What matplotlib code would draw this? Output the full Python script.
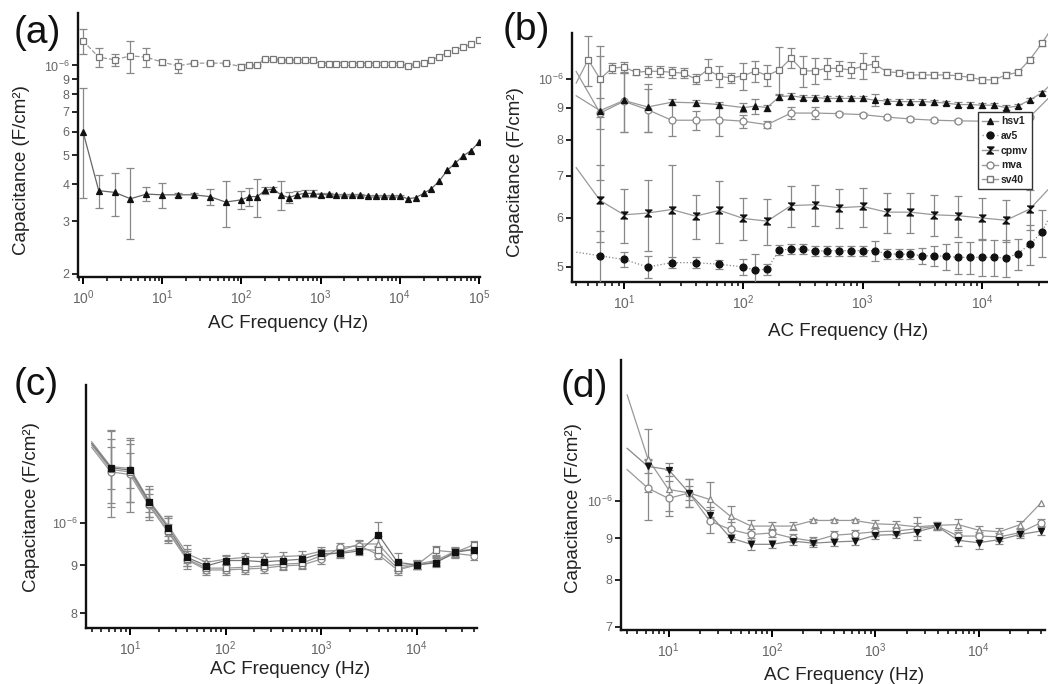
import numpy as np
import matplotlib
matplotlib.use('Agg')
import matplotlib.pyplot as plt
from matplotlib.lines import Line2D
from matplotlib.ticker import (FixedLocator, FixedFormatter, NullLocator,
                               LogLocator, NullFormatter)

plt.rcParams['font.family'] = ['Liberation Sans', 'DejaVu Sans']
plt.rcParams['mathtext.fontset'] = 'custom'
plt.rcParams['mathtext.rm'] = 'Liberation Sans'
plt.rcParams['mathtext.it'] = 'Liberation Sans:italic'

# ---------------- data (capacitance in F/cm2) ----------------
# panel (a): values x1e-7
freq_a = [1, 1.58, 2.51, 3.98, 6.31, 10, 15.8, 25.1, 39.8, 63.1,
          100, 126, 158, 200, 251, 316, 398, 501, 631, 794,
          1000, 1259, 1585, 1995, 2512, 3162, 3981, 5012, 6310, 7943,
          10000, 12589, 15849, 19953, 25119, 31623, 39811, 50119, 63096, 79433, 100000]
a_tri = [6.0, 3.8, 3.75, 3.57, 3.7, 3.68, 3.68, 3.68, 3.63, 3.48,
         3.54, 3.63, 3.63, 3.81, 3.85, 3.68, 3.6, 3.68, 3.72, 3.72,
         3.68, 3.7, 3.68, 3.68, 3.68, 3.68, 3.65, 3.65, 3.65, 3.65,
         3.65, 3.57, 3.6, 3.72, 3.86, 4.1, 4.45, 4.7, 4.97, 5.18, 5.53]
a_tri_err = [2.4, 0.48, 0.62, 0.95, 0.2, 0.36, 0.05, 0.05, 0.23, 0.62,
             0.25, 0.25, 0.53, 0.1, 0.05, 0.4, 0.15, 0.1, 0.1, 0.1,
             0.05, 0.03, 0.03, 0.03, 0.03, 0.03, 0.03, 0.03, 0.03, 0.03,
             0.03, 0, 0, 0, 0, 0, 0, 0, 0, 0, 0]
a_sq = [12.1, 10.66, 10.45, 10.77, 10.66, 10.26, 9.97, 10.18, 10.18, 10.18,
        9.9, 10.0, 10.05, 10.5, 10.5, 10.45, 10.4, 10.4, 10.4, 10.4,
        10.15, 10.15, 10.15, 10.15, 10.15, 10.15, 10.15, 10.15, 10.15, 10.15,
        10.15, 9.97, 10.1, 10.2, 10.45, 10.7, 11.05, 11.3, 11.5, 11.8, 12.2]
a_sq_err = [1.2, 0.75, 0.5, 1.3, 0.8, 0.2, 0.55, 0.1, 0.1, 0.1,
            0.2, 0.15, 0.1, 0.1, 0.1, 0.1, 0.1, 0.1, 0.1, 0.1,
            0.15, 0.15, 0.15, 0.15, 0.15, 0.15, 0.15, 0.15, 0.15, 0.15,
            0.15, 0.1, 0.1, 0, 0, 0, 0, 0, 0, 0, 0]

# panel (b): values x1e-6
freq_b_dense = [3.98, 6.31, 10, 15.8, 25.1, 39.8, 63.1,
                100, 126, 158, 200, 251, 316, 398, 501, 631, 794,
                1000, 1259, 1585, 1995, 2512, 3162, 3981, 5012, 6310, 7943,
                10000, 12589, 15849, 19953, 25119, 31623, 39811]
hsv1 = [0.94, 0.89, 0.924, 0.902, 0.918, 0.916, 0.91,
        0.90, 0.905, 0.90, 0.937, 0.94, 0.934, 0.934, 0.931, 0.931, 0.931,
        0.931, 0.925, 0.922, 0.92, 0.92, 0.92, 0.918, 0.915, 0.91, 0.91,
        0.908, 0.908, 0.90, 0.905, 0.926, 0.95, 0.99]
hsv1_err = [0, 0.2, 0.1, 0.08, 0.01, 0.01, 0.01,
            0.015, 0.025, 0.01, 0.01, 0.01, 0.01, 0.01, 0.01, 0.01, 0.01,
            0.01, 0.02, 0.008, 0.008, 0.008, 0.008, 0.008, 0.008, 0.008, 0.008,
            0.008, 0.008, 0.008, 0.008, 0.008, 0.008, 0]
av5 = [0.528, 0.521, 0.514, 0.5, 0.508, 0.508, 0.505,
       0.50, 0.494, 0.496, 0.532, 0.534, 0.534, 0.530, 0.531, 0.531, 0.531,
       0.531, 0.531, 0.525, 0.524, 0.524, 0.521, 0.521, 0.52, 0.518, 0.518,
       0.518, 0.518, 0.517, 0.525, 0.544, 0.568, 0.62]
av5_err = [0, 0.05, 0.015, 0.02, 0.01, 0.01, 0.008,
           0.015, 0.03, 0.01, 0.01, 0.01, 0.01, 0.01, 0.01, 0.01, 0.01,
           0.01, 0.02, 0.01, 0.01, 0.01, 0.015, 0.02, 0.025, 0.03, 0.03,
           0.035, 0.035, 0.035, 0.03, 0.04, 0.05, 0]
freq_b_coarse = [3.98, 6.31, 10, 15.8, 25.1, 39.8, 63.1, 100, 158, 251, 398,
                 631, 1000, 1585, 2512, 3981, 6310, 10000, 15849, 25119, 39811]
cpmv = [0.721, 0.639, 0.606, 0.61, 0.618, 0.603, 0.616, 0.598, 0.592, 0.627, 0.629,
        0.622, 0.625, 0.612, 0.612, 0.606, 0.604, 0.599, 0.594, 0.619, 0.68]
cpmv_err = [0, 0.09, 0.06, 0.08, 0.11, 0.048, 0.07, 0.046, 0.05, 0.047, 0.047,
            0.045, 0.045, 0.045, 0.045, 0.045, 0.045, 0.045, 0.045, 0.045, 0]
mva = [1.028, 0.882, 0.921, 0.893, 0.859, 0.859, 0.861, 0.856, 0.845, 0.882, 0.882,
       0.88, 0.877, 0.869, 0.863, 0.859, 0.857, 0.856, 0.855, 0.87, 0.95]
mva_err = [0, 0.05, 0.1, 0.07, 0.05, 0.03, 0.05, 0.02, 0.01, 0.02, 0.02,
           0.005, 0.005, 0.005, 0.005, 0.005, 0.005, 0, 0, 0, 0]
freq_b_sv40 = [3.98, 5.01, 6.31, 7.94, 10, 12.6, 15.8, 20, 25.1, 31.6, 39.8, 50.1, 63.1, 79.4,
               100, 126, 158, 200, 251, 316, 398, 501, 631, 794,
               1000, 1259, 1585, 1995, 2512, 3162, 3981, 5012, 6310, 7943,
               10000, 12589, 15849, 19953, 25119, 31623, 39811]
sv40 = [0.985, 1.074, 1.0, 1.041, 1.045, 1.025, 1.029, 1.029, 1.025, 1.022, 1.0, 1.035, 1.01, 1.004,
        1.012, 1.03, 1.013, 1.034, 1.08, 1.03, 1.031, 1.04, 1.04, 1.034,
        1.049, 1.057, 1.027, 1.024, 1.015, 1.015, 1.015, 1.015, 1.012, 1.006,
        0.997, 0.997, 1.015, 1.025, 1.074, 1.14, 1.22]
sv40_err = [0, 0.1, 0.13, 0.02, 0.02, 0.01, 0.02, 0.02, 0.02, 0.02, 0.02, 0.04, 0.04, 0.02,
            0.05, 0.04, 0.04, 0.09, 0.04, 0.06, 0.05, 0.04, 0.03, 0.03,
            0.05, 0.03, 0.01, 0.01, 0.01, 0.01, 0.01, 0.01, 0.01, 0.01,
            0.01, 0.01, 0.01, 0.01, 0.01, 0.01, 0]

# panel (c): values x1e-6
freq_cd = [3.98, 6.31, 10, 15.8, 25.1, 39.8, 63.1, 100, 158, 251, 398,
           631, 1000, 1585, 2512, 3981, 6310, 10000, 15849, 25119, 39811]
c_black = [1.217, 1.146, 1.139, 1.054, 0.988, 0.918, 0.899, 0.911, 0.911, 0.908, 0.911,
           0.914, 0.927, 0.927, 0.933, 0.971, 0.907, 0.901, 0.906, 0.93, 0.936]
c_black_err = [0, 0.06, 0.05, 0.04, 0.03, 0.02, 0.01, 0.01, 0.01, 0.01, 0.01,
               0.01, 0.01, 0.01, 0.01, 0.03, 0.02, 0.01, 0.01, 0.01, 0.01]
c_square = [1.212, 1.141, 1.134, 1.048, 0.981, 0.914, 0.894, 0.894, 0.896, 0.899, 0.903,
            0.905, 0.922, 0.93, 0.937, 0.934, 0.894, 0.901, 0.934, 0.93, 0.947]
c_square_err = [0, 0.09, 0.08, 0.04, 0.03, 0.015, 0.01, 0.01, 0.01, 0.01, 0.01,
                0.01, 0.01, 0.01, 0.01, 0.01, 0.01, 0.01, 0.01, 0.01, 0.01]
c_circle = [1.205, 1.134, 1.127, 1.044, 0.977, 0.912, 0.89, 0.89, 0.892, 0.894, 0.899,
            0.901, 0.914, 0.941, 0.945, 0.924, 0.89, 0.901, 0.908, 0.927, 0.922]
c_circle_err = [0, 0.12, 0.1, 0.03, 0.02, 0.02, 0.01, 0.01, 0.01, 0.01, 0.01,
                0.01, 0.01, 0.01, 0.01, 0.01, 0.01, 0.01, 0.01, 0.01, 0.01]
c_triangle = [1.222, 1.149, 1.144, 1.057, 0.993, 0.926, 0.907, 0.914, 0.918, 0.918, 0.92,
              0.922, 0.932, 0.934, 0.949, 0.949, 0.899, 0.903, 0.911, 0.932, 0.937]
c_triangle_err = [0, 0.11, 0.09, 0.03, 0.025, 0.02, 0.01, 0.01, 0.01, 0.01, 0.01,
                  0.01, 0.01, 0.01, 0.01, 0.02, 0.01, 0.01, 0.01, 0.01, 0.01]

# panel (d): values x1e-6
d_triangle = [1.352, 1.128, 1.034, 1.024, 1.005, 0.958, 0.932, 0.932, 0.932, 0.947, 0.947,
              0.947, 0.938, 0.936, 0.93, 0.934, 0.936, 0.921, 0.917, 0.936, 0.995]
d_triangle_err = [0, 0.1, 0.06, 0.04, 0.05, 0.03, 0.015, 0.01, 0.01, 0.005, 0.005,
                  0.005, 0.01, 0.01, 0.01, 0.01, 0.015, 0.01, 0.01, 0.01, 0]
d_black = [1.162, 1.104, 1.094, 1.024, 0.963, 0.901, 0.885, 0.885, 0.893, 0.888, 0.891,
           0.893, 0.908, 0.91, 0.917, 0.931, 0.895, 0.889, 0.897, 0.91, 0.919]
d_black_err = [0, 0.02, 0.02, 0.02, 0.02, 0.01, 0.015, 0.01, 0.01, 0.01, 0.01,
               0.01, 0.01, 0.01, 0.01, 0.01, 0.015, 0.015, 0.01, 0.01, 0.01]
d_circle = [1.094, 1.038, 1.008, 1.024, 0.945, 0.923, 0.91, 0.914, 0.901, 0.893, 0.908,
            0.912, 0.917, 0.919, 0.925, 0.932, 0.906, 0.906, 0.904, 0.915, 0.941]
d_circle_err = [0, 0.09, 0.05, 0.04, 0.03, 0.02, 0.015, 0.01, 0.01, 0.01, 0.01,
                0.01, 0.01, 0.01, 0.03, 0.01, 0.01, 0.01, 0.01, 0.01, 0.01]

hourglass = [(-1, 1), (1, 1), (-1, -1), (1, -1)]

W, H = 1048, 684
fig = plt.figure(figsize=(W / 100, H / 100), dpi=100)


def px_axes(left, top, right, bottom):
    return fig.add_axes([left / W, 1 - bottom / H, (right - left) / W, (bottom - top) / H])


def style(ax, xlim, ylim, yticks, ylabels):
    ax.set_xscale('log')
    ax.set_yscale('log')
    ax.set_xlim(*xlim)
    ax.set_ylim(*ylim)
    for s in ['top', 'right']:
        ax.spines[s].set_visible(False)
    for s in ['left', 'bottom']:
        ax.spines[s].set_linewidth(1.7)
        ax.spines[s].set_color('#111')
    ax.xaxis.set_major_locator(LogLocator(base=10, numticks=12))
    ax.xaxis.set_minor_locator(LogLocator(base=10, subs=np.arange(2, 10), numticks=40))
    ax.xaxis.set_minor_formatter(NullFormatter())
    ax.yaxis.set_major_locator(FixedLocator(yticks))
    ax.yaxis.set_major_formatter(FixedFormatter(ylabels))
    ax.yaxis.set_minor_locator(NullLocator())
    ax.tick_params(axis='x', which='major', length=5, width=1.4, labelsize=10,
                   labelcolor='#666', pad=3)
    ax.tick_params(axis='x', which='minor', length=3, width=1.1)
    ax.tick_params(axis='y', which='major', length=4, width=1.2, labelsize=9,
                   labelcolor='#666', pad=2)


def draw(ax, f, vals, err, scale, marker, mfc, mec, ls, lc, first=0, ms=5, ecolor='#888'):
    f = np.array(f, dtype=float)
    v = np.array(vals) * scale
    e = np.array(err) * scale
    ax.plot(f, v, ls=ls, color=lc, lw=0.9, zorder=2)
    m = e > 0
    ax.errorbar(f[m], v[m], yerr=e[m], fmt='none', ecolor=ecolor, elinewidth=0.9,
                capsize=2.8, capthick=0.9, zorder=3)
    ax.plot(f[first:], v[first:], ls='none', marker=marker, ms=ms, mfc=mfc, mec=mec,
            mew=0.9, zorder=4)


def ylab(x, y):
    fig.text(x / W, 1 - y / H, 'Capacitance (F/cm²)', rotation=90, fontsize=13.5,
             ha='center', va='center', color='#222')


def xlab(x, y):
    fig.text(x / W, 1 - y / H, 'AC Frequency (Hz)', fontsize=13.5,
             ha='center', va='center', color='#222')


def panel(x, y, s):
    fig.text(x / W, 1 - y / H, s, fontsize=28, ha='left', va='center', color='#111')


# ---------------- (a) ----------------
ax = px_axes(78, 13, 480, 277)
style(ax, (0.865, 1.03e5), (1.95e-7, 1.5e-6),
      [2e-7, 3e-7, 4e-7, 5e-7, 6e-7, 7e-7, 8e-7, 9e-7, 1e-6],
      ['2', '3', '4', '5', '6', '7', '8', '9', '10$^{-6}$'])
draw(ax, freq_a, a_sq, a_sq_err, 1e-7, 's', 'white', '#777', '--', '#999')
draw(ax, freq_a, a_tri, a_tri_err, 1e-7, '^', '#111', '#111', '-', '#666')
panel(14, 33, '(a)')
ylab(22, 170)
xlab(288, 323)

# ---------------- (b) ----------------
ax = px_axes(572, 33, 1048, 282)
style(ax, (3.67, 3.565e4), (4.73e-7, 1.185e-6),
      [5e-7, 6e-7, 7e-7, 8e-7, 9e-7, 1e-6],
      ['5', '6', '7', '8', '9', '10$^{-6}$'])
draw(ax, freq_b_sv40, sv40, sv40_err, 1e-6, 's', 'white', '#777', '-', '#999', first=1)
draw(ax, freq_b_coarse, mva, mva_err, 1e-6, 'o', 'white', '#888', '-', '#999', first=1)
draw(ax, freq_b_dense, hsv1, hsv1_err, 1e-6, '^', '#111', '#111', '-', '#999', first=1)
draw(ax, freq_b_coarse, cpmv, cpmv_err, 1e-6, hourglass, '#111', '#111', '-', '#999', first=1)
draw(ax, freq_b_dense, av5, av5_err, 1e-6, 'o', '#111', '#111', ':', '#888', first=1)
handles = [
    Line2D([], [], color='#999', lw=1, marker='^', ms=5, mfc='#111', mec='#111'),
    Line2D([], [], color='#999', lw=1, ls=':', marker='o', ms=5, mfc='#111', mec='#111'),
    Line2D([], [], color='#999', lw=1, marker=hourglass, ms=5, mfc='#111', mec='#111'),
    Line2D([], [], color='#999', lw=1, marker='o', ms=5, mfc='white', mec='#888'),
    Line2D([], [], color='#999', lw=1, marker='s', ms=5, mfc='white', mec='#777'),
]
leg = ax.legend(handles, ['hsv1', 'av5', 'cpmv', 'mva', 'sv40'],
                loc='upper left', bbox_to_anchor=(978 / W, 1 - 112 / H),
                bbox_transform=fig.transFigure, fontsize=7.5, frameon=True,
                fancybox=False, edgecolor='#333', framealpha=1,
                handlelength=1.5, handletextpad=0.3, labelspacing=0.45,
                borderpad=0.4, borderaxespad=0)
leg.get_frame().set_linewidth(1.0)
for t in leg.get_texts():
    t.set_fontweight('bold')
    t.set_color('#222')
panel(503, 30, '(b)')
ylab(516, 172)
xlab(848, 332)

# ---------------- (c) ----------------
ax = px_axes(86, 385, 477, 628)
style(ax, (3.47, 4.27e4), (7.71e-7, 1.406e-6),
      [8e-7, 9e-7, 1e-6], ['8', '9', '10$^{-6}$'])
draw(ax, freq_cd, c_triangle, c_triangle_err, 1e-6, '^', 'white', '#888', '-', '#999', first=1)
draw(ax, freq_cd, c_circle, c_circle_err, 1e-6, 'o', 'white', '#888', '-', '#999', first=1)
draw(ax, freq_cd, c_square, c_square_err, 1e-6, 's', 'white', '#777', '-', '#999', first=1)
draw(ax, freq_cd, c_black, c_black_err, 1e-6, 's', '#111', '#111', '-', '#777', first=1)
panel(14, 385, '(c)')
ylab(32, 507)
xlab(290, 670)

# ---------------- (d) ----------------
ax = px_axes(621, 360, 1045, 630)
style(ax, (3.47, 4.365e4), (6.94e-7, 1.493e-6),
      [7e-7, 8e-7, 9e-7, 1e-6], ['7', '8', '9', '10$^{-6}$'])
draw(ax, freq_cd, d_triangle, d_triangle_err, 1e-6, '^', 'white', '#888', '-', '#999', first=1)
draw(ax, freq_cd, d_circle, d_circle_err, 1e-6, 'o', 'white', '#888', '-', '#999', first=1)
draw(ax, freq_cd, d_black, d_black_err, 1e-6, 'v', '#111', '#111', '-', '#888', first=1)
panel(561, 387, '(d)')
ylab(573, 508)
xlab(844, 676)

fig.savefig('out.png', dpi=100)
